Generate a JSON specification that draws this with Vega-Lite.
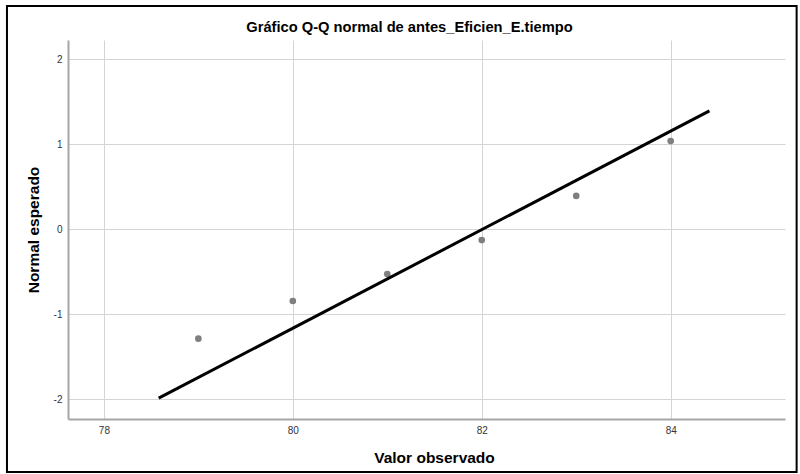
{
  "$schema": "https://vega.github.io/schema/vega-lite/v6.json",
  "width": 717,
  "height": 379,
  "autosize": {"type": "none"},
  "padding": {"left": 68, "top": 40, "right": 15, "bottom": 55},
  "background": "white",
  "title": {
    "text": "Gráfico Q-Q normal de antes_Eficien_E.tiempo",
    "font": "Liberation Sans",
    "fontSize": 14.7,
    "fontWeight": "bold",
    "color": "#000000",
    "anchor": "middle",
    "baseline": "alphabetic",
    "offset": 8,
    "dx": -17,
    "dy": 50
  },
  "config": {
    "view": {"stroke": null},
    "axis": {
      "labelFont": "Liberation Sans",
      "labelFontSize": 10,
      "labelColor": "#333333",
      "titleFont": "Liberation Sans",
      "titleFontSize": 15.5,
      "titleFontWeight": "bold",
      "titleColor": "#000000",
      "gridColor": "#d4d4d4",
      "gridWidth": 1,
      "gridOpacity": 1,
      "domainColor": "#a6a6a6",
      "domainWidth": 2,
      "ticks": false
    }
  },
  "datasets": {
    "pts": [
      {"observado": 79, "esperado": -1.29},
      {"observado": 80, "esperado": -0.847},
      {"observado": 81, "esperado": -0.53},
      {"observado": 82, "esperado": -0.13},
      {"observado": 83, "esperado": 0.39},
      {"observado": 84, "esperado": 1.035}
    ],
    "linea": [
      {"observado": 78.58, "esperado": -1.99},
      {"observado": 84.41, "esperado": 1.39}
    ],
    "marco": [
      {"x1": 76.974, "x2": 85.333, "y1": 2.624, "y2": -2.86}
    ]
  },
  "layer": [
    {
      "data": {"name": "pts"},
      "mark": {"type": "point", "filled": true, "color": "#7f7f7f", "opacity": 1, "size": 44},
      "encoding": {
        "x": {
          "field": "observado",
          "type": "quantitative",
          "scale": {"domain": [77.62, 85.21], "nice": false, "zero": false},
          "axis": {
            "values": [78, 80, 82, 84],
            "labelExpr": "'' + datum.value",
            "title": "Valor observado",
            "labelPadding": 6,
            "titleAnchor": "middle",
            "titlePadding": 27,
            "titleX": 366,
            "titleBaseline": "alphabetic"
          }
        },
        "y": {
          "field": "esperado",
          "type": "quantitative",
          "scale": {"domain": [-2.235, 2.224], "nice": false, "zero": false},
          "axis": {
            "values": [-2, -1, 0, 1, 2],
            "labelExpr": "'' + datum.value",
            "title": "Normal esperado",
            "labelPadding": 6,
            "titlePadding": 12
          }
        }
      }
    },
    {
      "data": {"name": "linea"},
      "mark": {"type": "line", "color": "#000000", "strokeWidth": 3},
      "encoding": {
        "x": {"field": "observado", "type": "quantitative"},
        "y": {"field": "esperado", "type": "quantitative"}
      }
    },
    {
      "data": {"name": "marco"},
      "mark": {"type": "rect", "fill": null, "stroke": "#000000", "strokeWidth": 2, "clip": false},
      "encoding": {
        "x": {"field": "x1", "type": "quantitative"},
        "x2": {"field": "x2"},
        "y": {"field": "y1", "type": "quantitative"},
        "y2": {"field": "y2"}
      }
    }
  ]
}
